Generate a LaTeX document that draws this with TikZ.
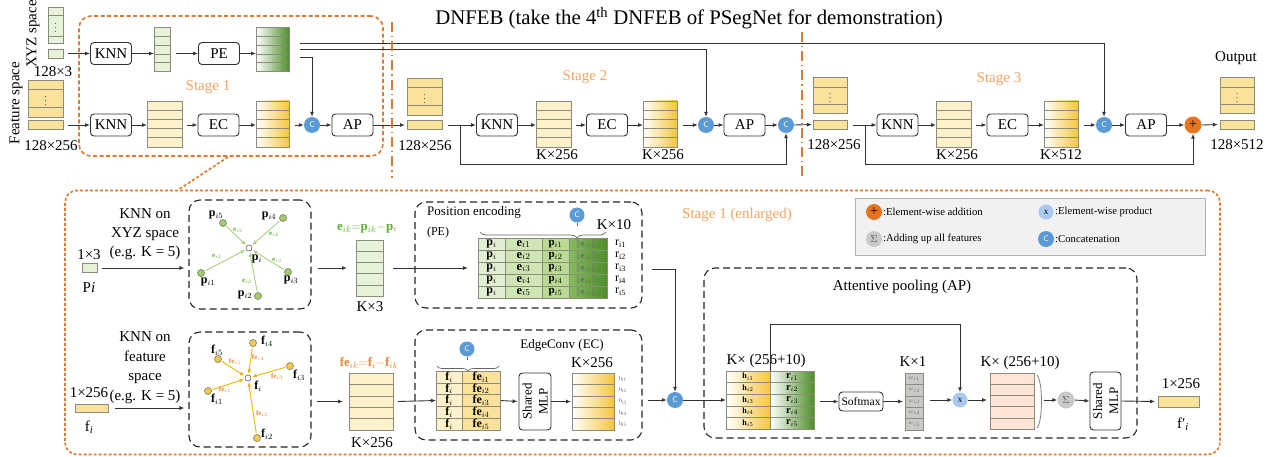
\documentclass[tikz,border=0pt]{standalone}
\usepackage{fontspec}
\setmainfont{Liberation Serif}
\usetikzlibrary{arrows.meta,calc,decorations.pathreplacing}
\definecolor{lc}{HTML}{333333}
\definecolor{cblue}{HTML}{5B9BD5}
\definecolor{corange}{HTML}{E8741E}
\definecolor{stor}{HTML}{F5A35F}
\definecolor{bor}{HTML}{E07A2E}
\definecolor{lgreen}{HTML}{E6F2D8}
\definecolor{dgreen}{HTML}{4E8E2A}
\definecolor{lyel}{HTML}{FDF1CC}
\definecolor{myel}{HTML}{FBE29C}
\definecolor{dyel}{HTML}{F4C63E}
\definecolor{pinkc}{HTML}{FDE4D6}
\definecolor{greyc}{HTML}{C9C9C9}
\definecolor{lblue}{HTML}{A9C9EE}
\definecolor{legbg}{HTML}{F1F1F1}
\definecolor{tb}{HTML}{8C8C7C}
\definecolor{gline}{HTML}{A8D080}
\definecolor{yline}{HTML}{F0B400}
\definecolor{egreen}{HTML}{5CB030}
\definecolor{eorange}{HTML}{E8883A}
\definecolor{ptca}{HTML}{E2EFD2}
\definecolor{ptcb}{HTML}{CFE6B4}
\definecolor{ptcc}{HTML}{B8DA92}
\definecolor{ptcd}{HTML}{6AAA3A}
\definecolor{gnf}{HTML}{A6CB6A}
\definecolor{ynf}{HTML}{F3CB4A}
\newcommand\tcol[6]{%
  \node[tcell,minimum width=#3pt,minimum height=#4pt,#6] (#1) at (#2) {};
  \pgfmathtruncatemacro\tcn{#5-1}%
  \foreach \k in {1,...,\tcn}{%
    \draw[tline] ($(#1.north west)!{\k/#5}!(#1.south west)$) -- ($(#1.north east)!{\k/#5}!(#1.south east)$);}%
}
\newcommand\dcol[8]{% name x1 y1 x2 y2 ya yb fill
  \draw[tcell,fill=#8] (#2,#3) rectangle (#4,#5);
  \draw[tline] (#2,#6) -- (#4,#6) (#2,#7) -- (#4,#7);
  \node[font=\fontsize{8}{8}\selectfont,inner sep=0pt] (#1) at ({(#2+#4)/2},{(#6+#7)/2}) {$\vdots$};
}
\begin{document}
\begin{tikzpicture}[x=1pt,y=-1pt,font=\fontsize{15}{18}\selectfont,
 ln/.style={draw=lc,line width=0.9pt},
 arr/.style={ln,-{Latex[length=5pt,width=4pt]}},
 opbox/.style={draw=lc,line width=0.9pt,rounded corners=3.5pt,minimum width=41pt,minimum height=22pt,inner sep=0pt,fill=white},
 cc/.style={circle,fill=cblue,inner sep=0pt,minimum size=16pt,text=white,font=\sffamily\fontsize{8}{8}\selectfont},
 pc/.style={circle,fill=corange,inner sep=0pt,minimum size=17pt,font=\fontsize{14}{14}\selectfont},
 xc/.style={circle,fill=lblue,inner sep=0pt,minimum size=15pt,font=\fontsize{9}{9}\selectfont},
 sc/.style={circle,fill=greyc,inner sep=0pt,minimum size=17pt,text=black!70,font=\fontsize{10}{10}\selectfont},
 tcell/.style={draw=tb,line width=0.6pt,inner sep=0pt,outer sep=0pt},
 tline/.style={draw=tb,line width=0.6pt},
 dbox/.style={draw=black!85,line width=1.1pt,dash pattern=on 7pt off 4pt,rounded corners=11pt,inner sep=0pt},
 obox/.style={draw=bor,line width=1.6pt,dash pattern=on 4pt off 2.5pt,rounded corners=12pt,inner sep=0pt},
 odot/.style={draw=bor,line width=1.6pt,dash pattern=on 3pt off 2pt},
 div/.style={draw=bor,line width=1.5pt,dash pattern=on 10pt off 4pt on 1.2pt off 4pt},
 stg/.style={text=stor,font=\fontsize{15}{15}\selectfont},
 cnode/.style={circle,inner sep=0pt,minimum size=6pt,draw=black!70,fill=white,line width=0.5pt},
 gnode/.style={circle,inner sep=0pt,minimum size=7pt,fill=gnf,draw=black!60,line width=0.5pt},
 ynode/.style={circle,inner sep=0pt,minimum size=7pt,fill=ynf,draw=black!60,line width=0.5pt},
 garr/.style={draw=gline,line width=0.9pt,-{Latex[length=4.5pt,width=4pt]},shorten <=1pt,shorten >=1pt},
 yarr/.style={draw=yline,line width=0.9pt,-{Latex[length=4.5pt,width=4pt]},shorten <=1pt,shorten >=1pt},
 plab/.style={font=\fontsize{12}{12}\selectfont,inner sep=0pt},
 elab/.style={font=\fontsize{7}{7}\selectfont,inner sep=0pt},
 tt/.style={font=\fontsize{12}{12}\selectfont,inner sep=0pt},
 legt/.style={anchor=west,font=\fontsize{10.7}{12}\selectfont,inner sep=0pt},
 brc/.style={draw=black!60,line width=0.7pt,decorate},
]
\useasboundingbox[fill=white] (0,0) rectangle (1281,457);

% ---------------- TOP ----------------
\node[font=\fontsize{20.8}{22}\selectfont] (title) at (689,18) {DNFEB (take the 4\textsuperscript{th} DNFEB of PSegNet for demonstration)};
\node[rotate=90] (xyzl) at (33,34) {XYZ space};
\node[rotate=90] (featl) at (16,103) {Feature space};

\dcol{xyzdots}{48}{7}{63}{43}{15}{36}{lgreen}
\node[tcell,fill=lgreen,minimum width=15pt,minimum height=9pt] (xyzin) at (55.5,53.5) {};
\node (xyzdim) at (53,72) {128×3};
\dcol{featdots}{28}{80}{63}{117}{89}{107}{myel}
\node[tcell,fill=myel,minimum width=35pt,minimum height=9pt] (featin) at (45.5,125) {};
\node (featdim) at (51,146) {128×256};

\node[obox,minimum width=304pt,minimum height=140pt] (s1box) at (231,86) {};
\node[stg] (st1) at (208,87) {Stage 1};

\node[opbox] (knn1) at (111,53.5) {KNN};
\tcol{c1a}{162,49.5}{16}{44}{5}{fill=lgreen}
\node[opbox] (pe1) at (219,53.5) {PE};
\tcol{c1b}{272.5,49.5}{33}{44}{5}{left color=white,right color=dgreen}
\draw[arr] ($(xyzin.east)+(5,0)$) -- (knn1.west);
\draw[arr] (knn1.east) -- (knn1.east -| c1a.west);
\draw[arr] ($(c1a.east |- pe1.west)+(6,0)$) -- (pe1.west);
\draw[arr] (pe1.east) -- (pe1.east -| c1b.west);

\node[opbox] (knn2) at (111,125) {KNN};
\tcol{c2a}{164.5,124}{35}{46}{5}{fill=lyel}
\node[opbox] (ec1) at (218.5,125) {EC};
\tcol{c2b}{272.5,124}{33}{46}{5}{left color=white,right color=dyel}
\node[cc] (C1) at (312,125) {C};
\node[opbox] (ap1) at (352.5,125) {AP};
\draw[arr] ($(featin.east)+(5,0)$) -- (knn2.west);
\draw[arr] (knn2.east) -- (knn2.east -| c2a.west);
\draw[arr] ($(c2a.east |- ec1.west)+(5,0)$) -- (ec1.west);
\draw[arr] (ec1.east) -- (ec1.east -| c2b.west);
\draw[arr] ($(c2b.east |- C1.west)+(6,0)$) -- (C1.west);
\draw[arr] (C1.east) -- (ap1.west);

% stage 2
\dcol{s2dots}{407}{78}{442}{115}{87}{105}{myel}
\node[tcell,fill=myel,minimum width=35pt,minimum height=9pt] (s2in) at (424.5,125) {};
\node (s2dim) at (425,146) {128×256};
\draw[arr,shorten >=2pt] (ap1.east) -- (s2in.west);
\node[stg] (st2) at (585,77) {Stage 2};
\node[opbox] (knn3) at (497,125) {KNN};
\tcol{c3a}{553.5,124}{35}{46}{5}{fill=lyel}
\node (c3al) at (557,155) {K×256};
\node[opbox] (ec2) at (607,125) {EC};
\tcol{c3b}{660,124}{34}{46}{5}{left color=white,right color=dyel}
\node (c3bl) at (663,155) {K×256};
\node[cc] (C2) at (706,125) {C};
\node[opbox] (ap2) at (744.5,125) {AP};
\node[cc] (C2b) at (786,125) {C};
\coordinate (b2s) at (448,125);
\coordinate (b2) at (460,125);
\draw[arr] (b2s) -- (knn3.west);
\draw[arr] (b2) -- (460,164) -| (C2b.south);
\draw[arr] (knn3.east) -- (knn3.east -| c3a.west);
\draw[arr] ($(c3a.east |- ec2.west)+(5,0)$) -- (ec2.west);
\draw[arr] (ec2.east) -- (ec2.east -| c3b.west);
\draw[arr] ($(c3b.east |- C2.west)+(6,0)$) -- (C2.west);
\draw[arr] (C2.east) -- (ap2.west);
\draw[arr] (ap2.east) -- (C2b.west);

% stage 3
\dcol{s3dots}{813}{77}{847}{113}{87}{104}{myel}
\node[tcell,fill=myel,minimum width=34pt,minimum height=9pt] (s3in) at (830,124.5) {};
\node (s3dim) at (834,145) {128×256};
\draw[arr,shorten >=1pt] (C2b.east) -- (s3in.west);
\node[stg] (st3) at (999,79) {Stage 3};
\node[opbox] (knn4) at (897.5,125) {KNN};
\tcol{c4a}{953.5,124}{35}{46}{5}{fill=lyel}
\node (c4al) at (957,155) {K×256};
\node[opbox] (ec3) at (1007.5,125) {EC};
\tcol{c4b}{1061,124}{34}{46}{5}{left color=white,right color=dyel}
\node (c4bl) at (1061,155) {K×512};
\node[cc] (C3) at (1104,125) {C};
\node[opbox] (ap3) at (1146,125) {AP};
\node[pc] (plus) at (1193,125) {+};
\dcol{outdots}{1220}{77}{1254}{113}{87}{104}{myel}
\node[tcell,fill=myel,minimum width=34pt,minimum height=9pt] (outin) at (1237,124.5) {};
\node (outl) at (1236,58) {Output};
\node (outdim) at (1237,145) {128×512};
\coordinate (b3s) at (853,125);
\coordinate (b3) at (865,125);
\draw[arr] (b3s) -- (knn4.west);
\draw[arr] (b3) -- (865,164) -| (plus.south);
\draw[arr] (knn4.east) -- (knn4.east -| c4a.west);
\draw[arr] ($(c4a.east |- ec3.west)+(5,0)$) -- (ec3.west);
\draw[arr] (ec3.east) -- (ec3.east -| c4b.west);
\draw[arr] ($(c4b.east |- C3.west)+(6,0)$) -- (C3.west);
\draw[arr] (C3.east) -- (ap3.west);
\draw[arr] (ap3.east) -- (plus.west);
\draw[arr,shorten >=2pt] (plus.east) -- (outin.west);

% PE lines
\coordinate (pA) at (300,43);
\coordinate (pB) at (300,49);
\coordinate (pC) at (300,57);
\draw[arr] (pC) -| (C1.north);
\draw[arr] (pB) -| (C2.north);
\draw[arr] (pA) -| (C3.north);

% dividers
\coordinate (d1a) at (392,22); \coordinate (d1b) at (392,178);
\coordinate (d2a) at (802,32); \coordinate (d2b) at (802,178);
\draw[div] (d1a) -- (d1b);
\draw[div] (d2a) -- (d2b);

% ---------------- BOTTOM ----------------
\coordinate (z1) at (228,157);
\coordinate (z2) at (178,190);
\draw[odot] (z1) -- (z2);
\node[draw=bor,line width=1.6pt,dash pattern=on 3pt off 2pt,rounded corners=12pt,minimum width=1155pt,minimum height=264pt,inner sep=0pt] (bbox) at (642.5,322.5) {};
\node[stg] (st1e) at (737,215) {Stage 1 (enlarged)};

% legend
\node[draw=black!30,fill=legbg,minimum width=350pt,minimum height=57pt,inner sep=0pt] (leg) at (1030,226.5) {};
\node[pc,minimum size=16pt] (lp) at (874,212) {+};
\node[legt] (lpt) at (883,212) {:Element-wise addition};
\node[xc] (lx) at (1046,212) {x};
\node[legt] (lxt) at (1055,212) {:Element-wise product};
\node[sc,minimum size=16pt] (ls) at (874,239) {$\Sigma$};
\node[legt] (lst) at (883,239) {:Adding up all features};
\node[cc,minimum size=16pt] (lcc) at (1046,239) {C};
\node[legt] (lct) at (1055,239) {:Concatenation};

% row 1 : XYZ
\node[align=center,font=\fontsize{15}{19}\selectfont] (kx) at (145,234) {KNN on\\XYZ space\\(e.g. K = 5)};
\node (p13) at (89,255) {1×3};
\node[tcell,fill=lgreen,minimum width=15pt,minimum height=9pt] (pin) at (89.5,268) {};
\node (pil) at (89,288) {P\textit{i}};
\node[dbox,minimum width=122pt,minimum height=109pt] (g1) at (250,254.5) {};
\draw[arr] ($(pin.east)+(5,0)$) -- ($(g1.west |- pin.east)+(-4,0)$);
\node[cnode] (pc0) at (249,248) {};
\node[gnode] (pn1) at (201,273) {};
\node[gnode] (pn2) at (258,296) {};
\node[gnode] (pn3) at (288,272) {};
\node[gnode] (pn4) at (283,218) {};
\node[gnode] (pn5) at (223,223) {};
\foreach \n in {1,...,5} {\draw[garr] (pn\n) -- (pc0);}
\node[plab] (lp0) at (257,259) {$\mathbf{p}_i$};
\node[plab] (lp1) at (208,282) {$\mathbf{p}_{i1}$};
\node[plab] (lp2) at (245,295) {$\mathbf{p}_{i2}$};
\node[plab] (lp3) at (291,280) {$\mathbf{p}_{i3}$};
\node[plab] (lp4) at (269,216) {$\mathbf{p}_{i4}$};
\node[plab] (lp5) at (216,215) {$\mathbf{p}_{i5}$};
\node[elab,text=egreen] (le1) at (217,256) {$\mathbf{e}_{i1}$};
\node[elab,text=egreen] (le2) at (247,281) {$\mathbf{e}_{i2}$};
\node[elab,text=egreen] (le3) at (277,260) {$\mathbf{e}_{i3}$};
\node[elab,text=egreen] (le4) at (274,234) {$\mathbf{e}_{i4}$};
\node[elab,text=egreen] (le5) at (238,230) {$\mathbf{e}_{i5}$};
\node[text=egreen,font=\fontsize{13}{13}\selectfont] (eqa) at (367,228) {$\mathbf{e}_{ik}\mathbf{=}\mathbf{p}_{ik}\mathbf{-}\mathbf{p}_i$};
\tcol{ke3}{369.5,268}{27}{56}{5}{fill=lgreen}
\node (ke3l) at (370,307) {K×3};
\draw[arr] ($(g1.east |- ke3.west)+(6,0)$) -- ($(ke3.west)+(-9,0)$);

% PE box
\node[dbox,minimum width=227pt,minimum height=106pt] (peb) at (528.5,255) {};
\node[font=\fontsize{13}{13}\selectfont] (pet) at (474,212) {Position encoding};
\node[font=\fontsize{12}{12}\selectfont] (pet2) at (438,233) {(PE)};
\tcol{pt1}{491.5,268}{27}{60}{5}{fill=ptca}
\tcol{pt2}{523.5,268}{37}{60}{5}{fill=ptcb}
\tcol{pt3}{555.5,268}{27}{60}{5}{fill=ptcc}
\tcol{pt4}{588,268}{38}{60}{5}{left color=ptcd!80,right color=dgreen}
\foreach \k in {1,...,5}{
  \node[tt] at ($(pt1.north)!{(\k-0.5)/5}!(pt1.south)$) {$\mathbf{p}_i$};
  \node[tt,font=\fontsize{12.5}{12}\selectfont] at ($(pt2.north)!{(\k-0.5)/5}!(pt2.south)$) {$\mathbf{e}_{i\k}$};
  \node[tt,font=\fontsize{11}{11}\selectfont] at ($(pt3.north)!{(\k-0.5)/5}!(pt3.south)$) {$\mathbf{p}_{i\k}$};
  \node[tt,font=\fontsize{9}{9}\selectfont,text=black!60] at ($(pt4.north)!{(\k-0.5)/5}!(pt4.south)$) {$\|\mathbf{e}_{i\k}\|_2$};
  \node[tt,font=\fontsize{12}{12}\selectfont,anchor=west] at ($(pt4.north east)!{(\k-0.5)/5}!(pt4.south east)+(8,0)$) {r\textsubscript{i\k}};
}
\draw[brc,decoration={brace,amplitude=6pt,aspect=0.77,mirror}] (480,232) -- (606,232);
\node[cc,minimum size=15pt] (cpe) at (577,215) {C};
\draw[draw=black!60,line width=0.7pt] (cpe.south) -- ++(0,3.5);
\node (k10) at (614,225) {K×10};
\draw[arr] ($(ke3.east)+(10,0)$) -- ($(pt1.west)+(-10,0)$);

% row 2 : features
\node[align=center,font=\fontsize{15}{19.5}\selectfont] (kf) at (145,367.5) {KNN on\\feature\\space\\(e.g. K = 5)};
\node (f256) at (89,393) {1×256};
\node[tcell,fill=myel,minimum width=33pt,minimum height=8pt] (fin) at (91.5,408) {};
\node (fil) at (89,427) {f\textsubscript{\textit{i}}};
\node[dbox,minimum width=122pt,minimum height=115pt] (g2) at (250,389.5) {};
\draw[arr] ($(fin.east)+(7,0)$) -- ($(g2.west |- fin.east)+(-4,0)$);
\node[cnode] (fc0) at (248,378) {};
\node[ynode] (fn1) at (208,391) {};
\node[ynode] (fn2) at (257,438) {};
\node[ynode] (fn3) at (290,366) {};
\node[ynode] (fn4) at (253,343) {};
\node[ynode] (fn5) at (218,359) {};
\foreach \n in {1,...,5} {\draw[yarr] (fn\n) -- (fc0);}
\node[plab] (lf0) at (258,386) {$\mathbf{f}_i$};
\node[plab] (lf1) at (217,399) {$\mathbf{f}_{i1}$};
\node[plab] (lf2) at (267,434) {$\mathbf{f}_{i2}$};
\node[plab] (lf3) at (299,375) {$\mathbf{f}_{i3}$};
\node[plab] (lf4) at (267,341) {$\mathbf{f}_{i4}$};
\node[plab] (lf5) at (217,350) {$\mathbf{f}_{i5}$};
\node[elab,text=eorange] (lfe1) at (225,390) {$\mathbf{fe}_{i1}$};
\node[elab,text=eorange] (lfe2) at (262,414) {$\mathbf{fe}_{i2}$};
\node[elab,text=eorange] (lfe3) at (277,377) {$\mathbf{fe}_{i3}$};
\node[elab,text=eorange] (lfe4) at (258,358) {$\mathbf{fe}_{i4}$};
\node[elab,text=eorange] (lfe5) at (235,362) {$\mathbf{fe}_{i5}$};
\node[text=eorange,font=\fontsize{13}{13}\selectfont] (eqb) at (369,363) {$\mathbf{fe}_{ik}\mathbf{=}\mathbf{f}_i\mathbf{-}\mathbf{f}_{ik}$};
\tcol{kf3}{371,401.5}{44}{57}{5}{fill=lyel}
\node (kf3l) at (372,443) {K×256};
\draw[arr] ($(g2.east |- kf3.west)+(5,0)$) -- ($(kf3.west)+(-6,0)$);

% EC box
\node[dbox,minimum width=227pt,minimum height=110pt] (ecb) at (528.5,385) {};
\node[font=\fontsize{13}{13}\selectfont] (ect) at (562,345) {EdgeConv (EC)};
\tcol{et1}{449,400.5}{26}{59}{5}{fill=lyel}
\tcol{et2}{481,400.5}{38}{59}{5}{fill=myel}
\foreach \k in {1,...,5}{
  \node[tt] at ($(et1.north)!{(\k-0.5)/5}!(et1.south)$) {$\mathbf{f}_i$};
  \node[tt] at ($(et2.north)!{(\k-0.5)/5}!(et2.south)$) {$\mathbf{fe}_{i\k}$};
}
\draw[brc,decoration={brace,amplitude=5pt,mirror}] (437,366) -- (499,366);
\node[cc,minimum size=15pt] (cec) at (467,349) {C};
\draw[draw=black!60,line width=0.7pt] (cec.south) -- ++(0,3);
\draw[arr] ($(kf3.east)+(5,0)$) -- (et1.west);
\node[opbox,minimum width=32pt,minimum height=57pt] (sm1) at (535,401.5) {};
\node[rotate=90,align=center,font=\fontsize{13}{16}\selectfont] (sm1t) at (sm1) {Shared\\MLP};
\tcol{hc}{593,401.5}{42}{57}{5}{left color=white,right color=dyel}
\node (hcl) at (592,363) {K×256};
\foreach \k in {1,...,5}{
  \node[tt,font=\fontsize{6}{6}\selectfont,text=black!60,anchor=west] at ($(hc.north east)!{(\k-0.5)/5}!(hc.south east)+(5,0)$) {h\textsubscript{i\k}};
}
\draw[arr,shorten <=1pt,shorten >=1pt] (et2.east) -- (sm1.west);
\draw[arr,shorten >=1pt] (sm1.east) -- (hc.west);
\node[cc] (Cm) at (675,400) {C};
\coordinate (peo) at (652,269);
\draw[arr] (peo) -| (Cm.north);
\draw[arr] ($(hc.east |- Cm.west)+(34,0)$) -- (Cm.west);

% AP box
\node[dbox,minimum width=433pt,minimum height=170pt] (apb) at (920.5,353) {};
\node (apt) at (902,287) {Attentive pooling (AP)};
\tcol{at1}{748,400}{44}{58}{5}{left color=white,right color=dyel}
\tcol{at2}{792,400}{44}{58}{5}{left color=white,right color=dgreen}
\foreach \k in {1,...,5}{
  \node[tt,font=\fontsize{8}{8}\selectfont] at ($(at1.north)!{(\k-0.5)/5}!(at1.south)$) {$\mathbf{h}_{i\k}$};
  \node[tt,font=\fontsize{10.5}{10}\selectfont] at ($(at2.north)!{(\k-0.5)/5}!(at2.south)$) {$\mathbf{r}_{i\k}$};
}
\node (atl) at (766,361) {K× (256+10)};
\draw[arr] (Cm.east) -- (at1.west);
\node[opbox,minimum width=44pt,minimum height=19pt,font=\fontsize{11.5}{11}\selectfont] (sfm) at (861,401.5) {Softmax};
\draw[arr] ($(at2.east |- sfm.west)+(6,0)$) -- (sfm.west);
\tcol{wc}{914,401.5}{18}{57}{5}{fill=greyc}
\foreach \k in {1,...,5}{
  \node[tt,font=\fontsize{6.5}{6}\selectfont,text=black!55] at ($(wc.north)!{(\k-0.5)/5}!(wc.south)$) {$w_{i\k}$};
}
\node (wcl) at (913,362) {K×1};
\draw[arr] (sfm.east) -- ($(wc.west |- sfm.east)+(-2,0)$);
\node[xc] (xm) at (960,400) {x};
\draw[arr] ($(wc.east |- xm.west)+(7,0)$) -- (xm.west);
\draw[arr] (at1.north east) -- ++(0,-47) -| (xm.north);
\tcol{pk}{1012,401}{44}{56}{5}{fill=pinkc}
\node (pkl) at (1020,363) {K× (256+10)};
\draw[arr] (xm.east) -- ($(pk.west |- xm.east)+(-3,0)$);
\coordinate (pa1) at (1037,375);
\coordinate (pa2) at (1037,428);
\draw[draw=black!50,line width=0.8pt] (pa1) .. controls (1043,382) and (1043,421) .. (pa2);
\node[sc] (sig) at (1066,400) {$\Sigma$};
\draw[arr] ($(pk.east |- sig.west)+(10,0)$) -- (sig.west);
\node[opbox,minimum width=31pt,minimum height=58pt] (sm2) at (1105.5,401) {};
\node[rotate=90,align=center,font=\fontsize{13}{16}\selectfont] (sm2t) at (sm2) {Shared\\MLP};
\draw[arr] (sig.east) -- (sm2.west);
\node[tcell,fill=myel,minimum width=41pt,minimum height=11pt] (fout) at (1178.5,401.5) {};
\draw[arr] (sm2.east) -- ($(fout.west)+(-3,0)$);
\node (fol) at (1181,384) {1×256};
\node (fo) at (1183,424) {f′\textsubscript{\textit{i}}};
\end{tikzpicture}
\end{document}
